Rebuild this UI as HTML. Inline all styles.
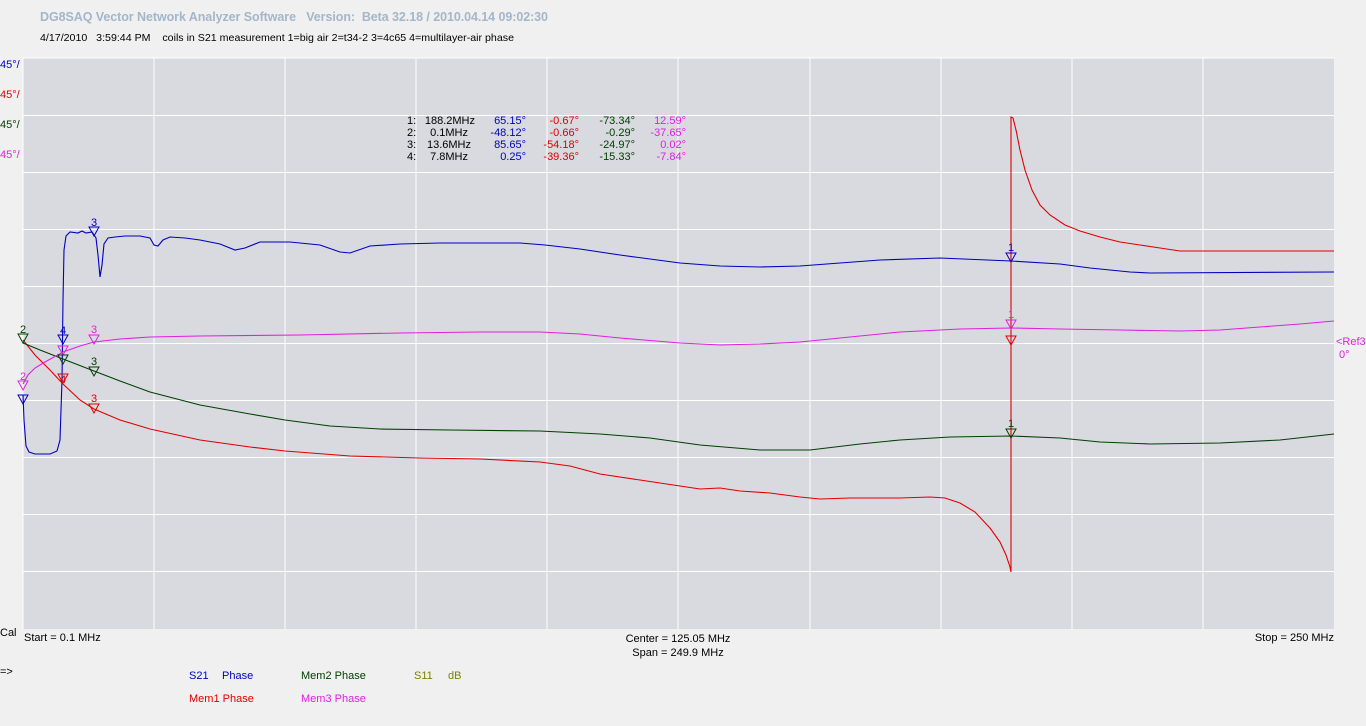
<!DOCTYPE html>
<html><head><meta charset="utf-8"><style>
body{margin:0;background:#f0f0f0;width:1366px;height:721px;overflow:hidden;font-family:"Liberation Sans",sans-serif}
</style></head><body>
<svg width="1366" height="721" xmlns="http://www.w3.org/2000/svg" font-family="Liberation Sans, sans-serif" font-size="11">
<rect width="1366" height="721" fill="#f0f0f0"/>
<text x="40" y="21" font-size="12.5" font-weight="bold" fill="#a3b6ca" xml:space="preserve" textLength="508" lengthAdjust="spacing">DG8SAQ Vector Network Analyzer Software   Version:  Beta 32.18 / 2010.04.14 09:02:30</text>
<text x="40" y="41" fill="#000" font-size="10.5" xml:space="preserve" textLength="474" lengthAdjust="spacingAndGlyphs">4/17/2010   3:59:44 PM    coils in S21 measurement 1=big air 2=t34-2 3=4c65 4=multilayer-air phase</text>
<rect x="23" y="58" width="1311" height="571" fill="#d9d9e0"/>
<g stroke="#fff" stroke-width="1">
<line x1="154" y1="58" x2="154" y2="629"/><line x1="285" y1="58" x2="285" y2="629"/><line x1="416" y1="58" x2="416" y2="629"/><line x1="547" y1="58" x2="547" y2="629"/><line x1="678" y1="58" x2="678" y2="629"/><line x1="810" y1="58" x2="810" y2="629"/><line x1="941" y1="58" x2="941" y2="629"/><line x1="1072" y1="58" x2="1072" y2="629"/><line x1="1203" y1="58" x2="1203" y2="629"/>
<line x1="23" y1="58" x2="1334" y2="58"/><line x1="23" y1="115.5" x2="1334" y2="115.5"/><line x1="23" y1="172.5" x2="1334" y2="172.5"/><line x1="23" y1="229.5" x2="1334" y2="229.5"/><line x1="23" y1="286.5" x2="1334" y2="286.5"/><line x1="23" y1="343.5" x2="1334" y2="343.5"/><line x1="23" y1="400.5" x2="1334" y2="400.5"/><line x1="23" y1="457.5" x2="1334" y2="457.5"/><line x1="23" y1="514.5" x2="1334" y2="514.5"/><line x1="23" y1="571.5" x2="1334" y2="571.5"/>
<line x1="23" y1="58" x2="23" y2="629"/>
</g>
<g fill="none" stroke-width="1.1">
<polyline stroke="#0000c0" points="23,395 24,420 26,446 29,452 35,454 50,454 57,451 60,440 62,380 63,300 64,250 66,236 70,232 78,233 82,231 86,233 92,232 96,238 98,255 100,277 102,265 104,244 108,238 115,237 125,236 140,236 150,238 154,245 158,246 163,240 170,237 185,238 200,240 220,244 235,250 245,248 260,242 290,242 320,245 340,252 350,253 370,246 400,244 440,243 480,243 520,243 545,245 580,249 620,255 680,263 720,266 760,267 800,266 840,263 880,260 940,258 1011,261 1060,264 1090,268 1130,272 1150,273 1334,272"/>
<polyline stroke="#e00000" points="23,340 35,355 50,370 63,384 80,400 94,409 120,420 150,429 200,440 250,447 285,451 350,456 420,458 480,459 540,462 570,466 600,474 640,480 680,486 700,489 720,488 740,491 770,493 800,497 820,499 850,498 900,498 930,497 945,498 960,503 975,512 990,528 1000,542 1006,555 1010,567 1011,572 1011,117 1013,118 1016,130 1020,150 1025,170 1032,190 1040,205 1050,215 1065,225 1080,231 1100,237 1120,242 1140,245 1160,248 1180,251 1200,251 1334,251"/>
<polyline stroke="#004000" points="23,343 40,350 63,359 94,371 120,381 150,392 200,405 250,414 285,420 330,426 380,429 450,430 540,431 600,434 650,438 700,445 760,450 810,450 860,444 900,440 950,437 1011,436 1060,438 1100,442 1150,444 1220,443 1280,440 1334,434"/>
<polyline stroke="#e020e0" points="23,384 28,375 35,368 45,362 63,352 80,346 94,342 120,339 150,337 200,336 300,335 400,333 480,332 540,332 580,334 620,338 680,343 720,345 760,344 800,342 840,338 900,332 960,329 1011,328 1060,329 1120,330 1180,331 1220,330 1260,327 1300,324 1334,321"/>
</g>
<g font-size="11" text-anchor="middle">
<g fill="none" stroke-width="1">
<path d="M18,334 L28,334 L23,343Z" stroke="#004000"/>
<path d="M18,381 L28,381 L23,390Z" stroke="#e020e0"/>
<path d="M18,395 L28,395 L23,404Z" stroke="#0000c0"/>
<path d="M58,335 L68,335 L63,344Z" stroke="#0000c0"/>
<path d="M58,346 L68,346 L63,355Z" stroke="#e020e0"/>
<path d="M58,355 L68,355 L63,364Z" stroke="#004000"/>
<path d="M58,374 L68,374 L63,383Z" stroke="#e00000"/>
<path d="M89,227 L99,227 L94,236Z" stroke="#0000c0"/>
<path d="M89,335 L99,335 L94,344Z" stroke="#e020e0"/>
<path d="M89,367 L99,367 L94,376Z" stroke="#004000"/>
<path d="M89,404 L99,404 L94,413Z" stroke="#e00000"/>
<path d="M1006,253 L1016,253 L1011,262Z" stroke="#0000c0"/>
<path d="M1006,320 L1016,320 L1011,329Z" stroke="#e020e0"/>
<path d="M1006,336 L1016,336 L1011,345Z" stroke="#e00000"/>
<path d="M1006,429 L1016,429 L1011,438Z" stroke="#004000"/>
</g>
<text x="23" y="333" fill="#004000">2</text>
<text x="23" y="380" fill="#e020e0">2</text>
<text x="63" y="334" fill="#0000c0">4</text>
<text x="63" y="383" fill="#e00000">4</text>
<text x="94" y="226" fill="#0000c0">3</text>
<text x="94" y="333" fill="#e020e0">3</text>
<text x="94" y="365" fill="#004000">3</text>
<text x="94" y="402" fill="#e00000">3</text>
<text x="1011" y="251" fill="#0000c0">1</text>
<text x="1011" y="318" fill="#e020e0">1</text>
<text x="1011" y="427" fill="#004000">1</text>
</g>
<g font-size="11">
<text x="0" y="68" fill="#0000c0">45°/</text>
<text x="0" y="98" fill="#e00000">45°/</text>
<text x="0" y="128" fill="#004000">45°/</text>
<text x="0" y="158" fill="#e020e0">45°/</text>
<text x="1336" y="345" fill="#e020e0">&lt;Ref3</text>
<text x="1339" y="358" fill="#e020e0">0°</text>
</g>
<g font-size="11">
<text x="407" y="124">1:</text><text x="407" y="136">2:</text><text x="407" y="148">3:</text><text x="407" y="160">4:</text>
<g text-anchor="end">
<text x="475" y="124">188.2MHz</text><text x="468" y="136">0.1MHz</text><text x="471" y="148">13.6MHz</text><text x="468" y="160">7.8MHz</text>
<g fill="#0000c0"><text x="526" y="124">65.15°</text><text x="526" y="136">-48.12°</text><text x="526" y="148">85.65°</text><text x="526" y="160">0.25°</text></g>
<g fill="#e00000"><text x="579" y="124">-0.67°</text><text x="579" y="136">-0.66°</text><text x="579" y="148">-54.18°</text><text x="579" y="160">-39.36°</text></g>
<g fill="#004000"><text x="635" y="124">-73.34°</text><text x="635" y="136">-0.29°</text><text x="635" y="148">-24.97°</text><text x="635" y="160">-15.33°</text></g>
<g fill="#e020e0"><text x="686" y="124">12.59°</text><text x="686" y="136">-37.65°</text><text x="686" y="148">0.02°</text><text x="686" y="160">-7.84°</text></g>
</g>
</g>
<g font-size="11">
<text x="0" y="636">Cal</text>
<text x="24" y="641">Start = 0.1 MHz</text>
<text x="678" y="642" text-anchor="middle">Center = 125.05 MHz</text>
<text x="678" y="656" text-anchor="middle">Span = 249.9 MHz</text>
<text x="1334" y="641" text-anchor="end">Stop = 250 MHz</text>
<text x="0" y="675">=&gt;</text>
<text x="189" y="679" fill="#0000c0">S21</text><text x="222" y="679" fill="#0000c0">Phase</text>
<text x="301" y="679" fill="#004000">Mem2 Phase</text>
<text x="414" y="679" fill="#808000">S11</text><text x="448" y="679" fill="#808000">dB</text>
<text x="189" y="702" fill="#e00000">Mem1 Phase</text>
<text x="301" y="702" fill="#e020e0">Mem3 Phase</text>
</g>
</svg>
</body></html>
